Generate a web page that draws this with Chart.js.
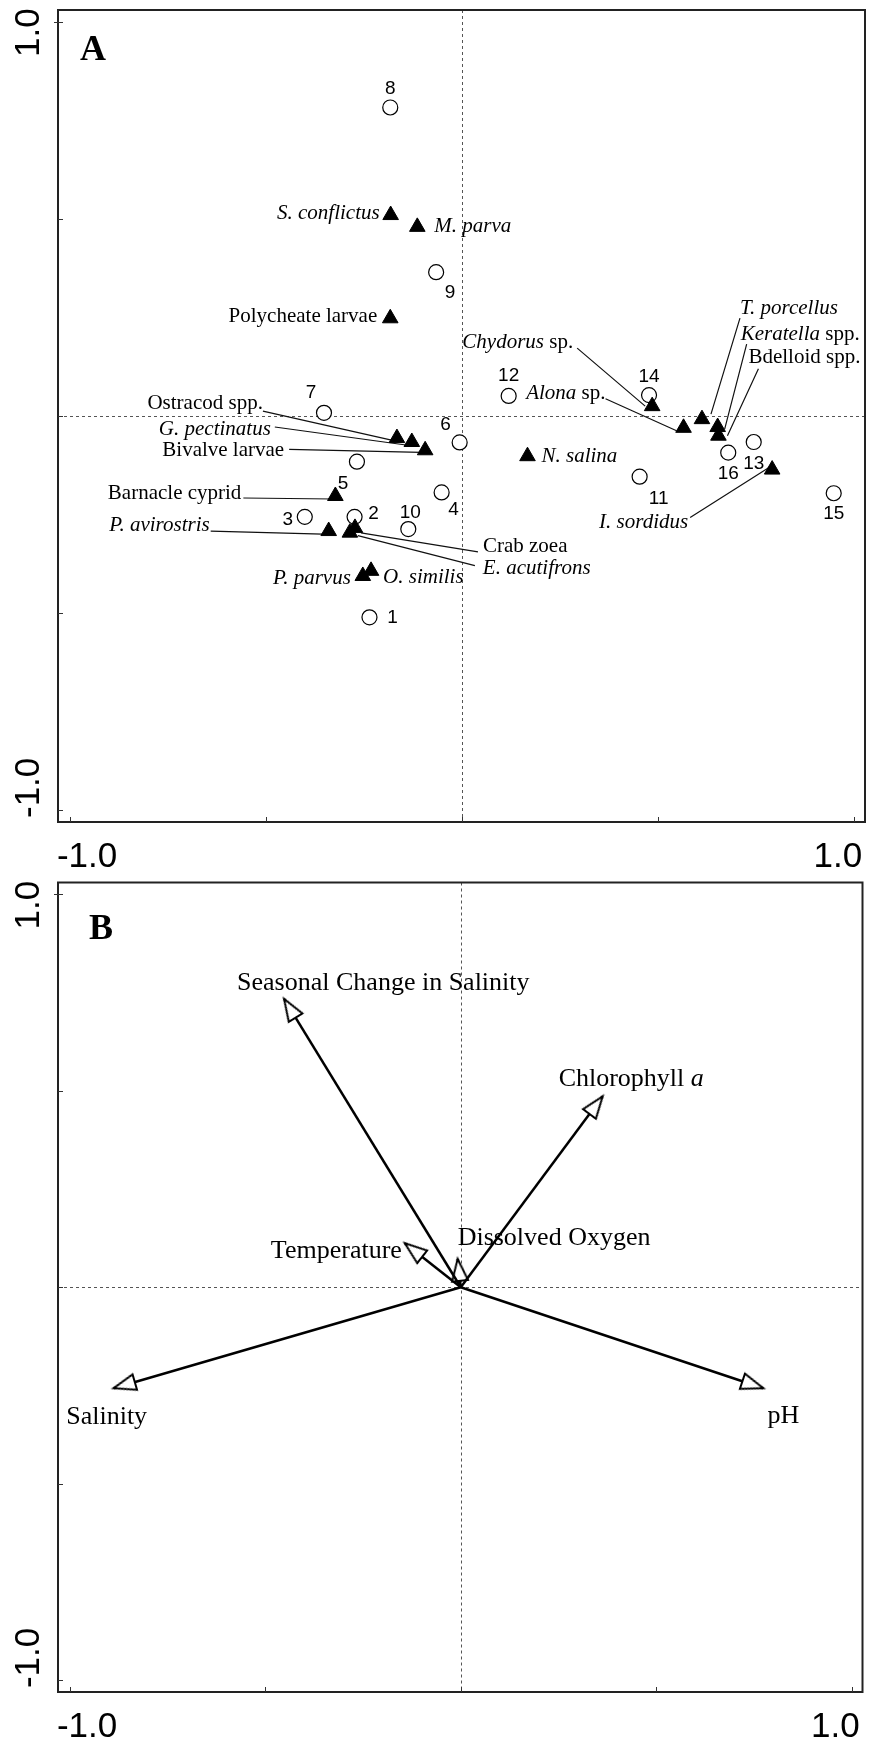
<!DOCTYPE html>
<html>
<head>
<meta charset="utf-8">
<script src="https://cdn.jsdelivr.net/npm/chart.js@4.4.1/dist/chart.umd.min.js"></script>
<style>
  html, body { margin: 0; padding: 0; background: #fff; overflow: hidden; }
  #wrap { position: relative; width: 875px; height: 1741px; }
  canvas { position: absolute; left: 0; }
</style>
</head>
<body>
<div id="wrap">
  <canvas id="chartA" width="875" height="870" style="top:0"></canvas>
  <canvas id="chartB" width="875" height="871" style="top:870px"></canvas>
</div>
<script>
// ---- data: panel A, sites (open circles)
const siteNames = ['1', '2', '3', '4', '5', '6', '7', '8', '9', '10', '11', '12', '13', '14', '15', '16'];
const siteX = [-0.236, -0.274, -0.401, -0.052, -0.268, -0.006, -0.352, -0.183, -0.066, -0.137, 0.453, 0.119, 0.744, 0.477, 0.948, 0.679];
const siteY = [-0.511, -0.256, -0.256, -0.194, -0.116, -0.067, 0.008, 0.783, 0.365, -0.287, -0.154, 0.051, -0.066, 0.053, -0.196, -0.093];

// ---- data: panel A, species (filled triangles); *...* = italic
const speciesNames = ['*S. conflictus*', '*M. parva*', 'Polycheate larvae', '*Chydorus* sp.', '*Alona* sp.',
  '*T. porcellus*', '*Keratella* spp.', 'Bdelloid spp.', '*I. sordidus*', '*N. salina*', 'Ostracod spp.',
  '*G. pectinatus*', 'Bivalve larvae', 'Barnacle cyprid', '*P. avirostris*', 'Crab zoea', '*E. acutifrons*',
  '*P. parvus*', '*O. similis*'];
const speciesX = [-0.182, -0.114, -0.183, 0.485, 0.565, 0.612, 0.652, 0.654, 0.791, 0.167, -0.166,
  -0.128, -0.094, -0.323, -0.340, -0.273, -0.286, -0.253, -0.232];
const speciesY = [0.510, 0.480, 0.248, 0.025, -0.030, -0.008, -0.028, -0.050, -0.136, -0.102, -0.056,
  -0.066, -0.087, -0.203, -0.292, -0.284, -0.296, -0.406, -0.393];

// ---- data: panel B, environmental vectors
const envNames = ['Seasonal Change in Salinity', 'Chlorophyll *a*', 'Dissolved Oxygen', 'Temperature', 'Salinity', 'pH'];
const envX = [-0.452, 0.363, -0.008, -0.143, -0.888, 0.774];
const envY = [0.734, 0.486, 0.072, 0.112, -0.257, -0.257];

// ---- axes
const axisTicks = [-1, -0.5, 0, 0.5, 1];
const axisTickLabels = ['-1.0', '1.0'];

// ---- label placement (pixels, relative to the mark)
const siteLabelPos = [[23, 0], [19, -3], [-17, 3], [12, 17], [-14, 22], [-14, -18], [-13, -20], [0, -19],
  [14, 21], [2, -16], [19, 22], [0, -20], [0, 22], [0, -18], [0, 21], [0, 21]];
// [dx, dy, align, leaderStartDx, leaderStartDy, leaderEndDx, leaderEndDy]
const speciesLabelPos = [
  [-11, -2, 'right'], [17, 0, 'left'], [-13, -2, 'right'],
  [-79, -64, 'right', -75, -58, -7, 0],
  [-78, -34, 'right', -78, -29, -7, 3],
  [38, -111, 'left', 38, -101, 9, -5],
  [23, -93, 'left', 29, -83, 7, 2],
  [30, -78, 'left', 40, -67, 9, 0],
  [-84, 53, 'right', -82, 48, 0, -4],
  [14, 0, 'left'],
  [-134, -35, 'right', -134, -27, -1, 3],
  [-141, -13, 'right', -137, -15, -6, 3],
  [-141, 0, 'right', -136, -1, -4, 2],
  [-94, -3, 'right', -92, 2, -2, 3],
  [-119, -6, 'right', -118, 0, -6, 3],
  [128, 19, 'left', 123, 24, 6, 5],
  [133, 36, 'left', 125, 33, 8, 3],
  [-12, 3, 'right'], [12, 7, 'left']
];
const envLabelPos = [[-47, -16, 'left'], [-44, -17, 'left'], [0, -21, 'left'], [-3, 8, 'right'], [-7, 29, 'center'], [20, 28, 'center']];

const SERIF = '"Liberation Serif", "Times New Roman", serif';
const SANS = '"Liberation Sans", Arial, sans-serif';

// draws text with *italic* segments
function richText(ctx, text, x, y, align, size) {
  const parts = text.split('*');
  let w = 0;
  parts.forEach((p, i) => {
    ctx.font = (i % 2 ? 'italic ' : '') + size + 'px ' + SERIF;
    w += ctx.measureText(p).width;
  });
  let cx = align === 'right' ? x - w : align === 'center' ? x - w / 2 : x;
  ctx.textAlign = 'left';
  ctx.textBaseline = 'middle';
  parts.forEach((p, i) => {
    ctx.font = (i % 2 ? 'italic ' : '') + size + 'px ' + SERIF;
    ctx.fillText(p, cx, y);
    cx += ctx.measureText(p).width;
  });
}

// frame, zero lines, ticks, tick labels, panel letter
const framePlugin = {
  id: 'frame',
  beforeDatasetsDraw(chart) {
    const { ctx, chartArea: a, scales: { x, y } } = chart;
    ctx.save();
    ctx.strokeStyle = '#555';
    ctx.lineWidth = 1;
    ctx.setLineDash([3, 3]);
    const x0 = Math.round(x.getPixelForValue(0)) + 0.5;
    const y0 = Math.round(y.getPixelForValue(0)) + 0.5;
    ctx.beginPath();
    ctx.moveTo(x0, a.top); ctx.lineTo(x0, a.bottom);
    ctx.moveTo(a.left, y0); ctx.lineTo(a.right, y0);
    ctx.stroke();
    ctx.restore();
  },
  afterDraw(chart, args, opts) {
    const { ctx, chartArea: a, scales: { x, y } } = chart;
    ctx.save();
    ctx.strokeStyle = '#222';
    ctx.lineWidth = 2;
    ctx.strokeRect(a.left, a.top, a.right - a.left, a.bottom - a.top);
    ctx.lineWidth = 1;
    ctx.strokeStyle = '#333';
    ctx.beginPath();
    axisTicks.forEach(t => {
      const xp = Math.round(x.getPixelForValue(t)) + 0.5;
      ctx.moveTo(xp, a.bottom); ctx.lineTo(xp, a.bottom - 5);
      const yp = Math.round(y.getPixelForValue(t)) + 0.5;
      ctx.moveTo(a.left - (t === 1 ? 4 : 0), yp); ctx.lineTo(a.left + 5, yp);
    });
    ctx.stroke();

    ctx.fillStyle = '#000';
    ctx.font = '35px ' + SANS;
    ctx.textBaseline = 'alphabetic';
    ctx.textAlign = 'left';
    ctx.fillText(axisTickLabels[0], x.getPixelForValue(-1) - 13, a.bottom + 45);
    ctx.textAlign = 'right';
    ctx.fillText(axisTickLabels[1], x.getPixelForValue(1) + 8, a.bottom + 45);
    // rotated y labels
    [[axisTickLabels[1], y.getPixelForValue(1) + 35], [axisTickLabels[0], y.getPixelForValue(-1) + 8]].forEach(([txt, yp]) => {
      ctx.save();
      ctx.translate(39, yp);
      ctx.rotate(-Math.PI / 2);
      ctx.textAlign = 'left';
      ctx.fillText(txt, 0, 0);
      ctx.restore();
    });

    ctx.font = 'bold 36px ' + SERIF;
    ctx.textAlign = 'left';
    ctx.fillText(opts.letter, a.left + opts.lx, a.top + opts.ly);
    ctx.restore();
  }
};

// panel A labels and leader lines
const labelsA = {
  id: 'labelsA',
  beforeDatasetsDraw(chart) {
    const { ctx, scales: { x, y } } = chart;
    ctx.save();
    ctx.strokeStyle = '#111';
    ctx.lineWidth = 1.2;
    ctx.beginPath();
    speciesLabelPos.forEach((p, i) => {
      if (p.length < 4) return;
      const px = x.getPixelForValue(speciesX[i]);
      const py = y.getPixelForValue(speciesY[i]);
      ctx.moveTo(px + p[3], py + p[4]);
      ctx.lineTo(px + p[5], py + p[6]);
    });
    ctx.stroke();
    ctx.restore();
  },
  afterDatasetsDraw(chart) {
    const { ctx, scales: { x, y } } = chart;
    ctx.save();
    ctx.fillStyle = '#000';
    ctx.font = '19px ' + SANS;
    ctx.textAlign = 'center';
    ctx.textBaseline = 'middle';
    siteNames.forEach((s, i) => {
      ctx.fillText(s, x.getPixelForValue(siteX[i]) + siteLabelPos[i][0], y.getPixelForValue(siteY[i]) + siteLabelPos[i][1]);
    });
    speciesNames.forEach((s, i) => {
      const p = speciesLabelPos[i];
      richText(ctx, s, x.getPixelForValue(speciesX[i]) + p[0], y.getPixelForValue(speciesY[i]) + p[1], p[2], 21);
    });
    ctx.restore();
  }
};

const labelsB = {
  id: 'labelsB',
  afterDatasetsDraw(chart) {
    const { ctx, scales: { x, y } } = chart;
    ctx.save();
    ctx.fillStyle = '#000';
    envNames.forEach((s, i) => {
      const p = envLabelPos[i];
      richText(ctx, s, x.getPixelForValue(envX[i]) + p[0], y.getPixelForValue(envY[i]) + p[1], p[2], 26);
    });
    ctx.restore();
  }
};

const scaleOpts = {
  x: { type: 'linear', min: -1.0304, max: 1.0278, display: false },
  y: { type: 'linear', min: -1.0304, max: 1.0304, display: false }
};

new Chart(document.getElementById('chartA'), {
  type: 'scatter',
  data: {
    datasets: [
      {
        label: 'Species',
        data: speciesX.map((v, i) => ({ x: v, y: speciesY[i] })),
        pointStyle: 'triangle',
        pointRadius: 9,
        backgroundColor: '#000',
        borderColor: '#000',
        borderWidth: 1
      },
      {
        label: 'Sites',
        data: siteX.map((v, i) => ({ x: v, y: siteY[i] })),
        pointStyle: 'circle',
        pointRadius: 7.5,
        backgroundColor: '#fff',
        borderColor: '#000',
        borderWidth: 1.2
      }
    ]
  },
  options: {
    responsive: false,
    animation: false,
    events: [],
    layout: { padding: { left: 58, right: 4, top: 8, bottom: 48 } },
    scales: scaleOpts,
    plugins: { legend: { display: false }, tooltip: { enabled: false }, frame: { letter: 'A', lx: 22, ly: 50 } }
  },
  plugins: [framePlugin, labelsA]
});

// open arrowhead, tip at the canvas centre, pointing up
function makeHead() {
  const L = 22, W = 8, S = 60;
  const c = document.createElement('canvas');
  c.width = S; c.height = S;
  const g = c.getContext('2d');
  g.beginPath();
  g.moveTo(S / 2, S / 2);
  g.lineTo(S / 2 - W, S / 2 + L);
  g.lineTo(S / 2 + W, S / 2 + L);
  g.closePath();
  g.fillStyle = '#fff';
  g.fill();
  g.lineWidth = 2;
  g.strokeStyle = '#000';
  g.stroke();
  return c;
}
const head = makeHead();

new Chart(document.getElementById('chartB'), {
  type: 'scatter',
  data: {
    datasets: envNames.map((n, i) => ({
      label: n,
      data: [{ x: 0, y: 0 }, { x: envX[i], y: envY[i] }],
      showLine: true,
      borderColor: '#000',
      borderWidth: 2.5,
      pointRadius: [0, 10],
      pointStyle: head,
      pointRotation: Math.atan2(-envY[i], envX[i]) * 180 / Math.PI + 90
    }))
  },
  options: {
    responsive: false,
    animation: false,
    events: [],
    layout: { padding: { left: 58, right: 4, top: 9, bottom: 49 } },
    scales: scaleOpts,
    plugins: { legend: { display: false }, tooltip: { enabled: false }, frame: { letter: 'B', lx: 31, ly: 56 } }
  },
  plugins: [framePlugin, labelsB]
});
</script>
</body>
</html>
